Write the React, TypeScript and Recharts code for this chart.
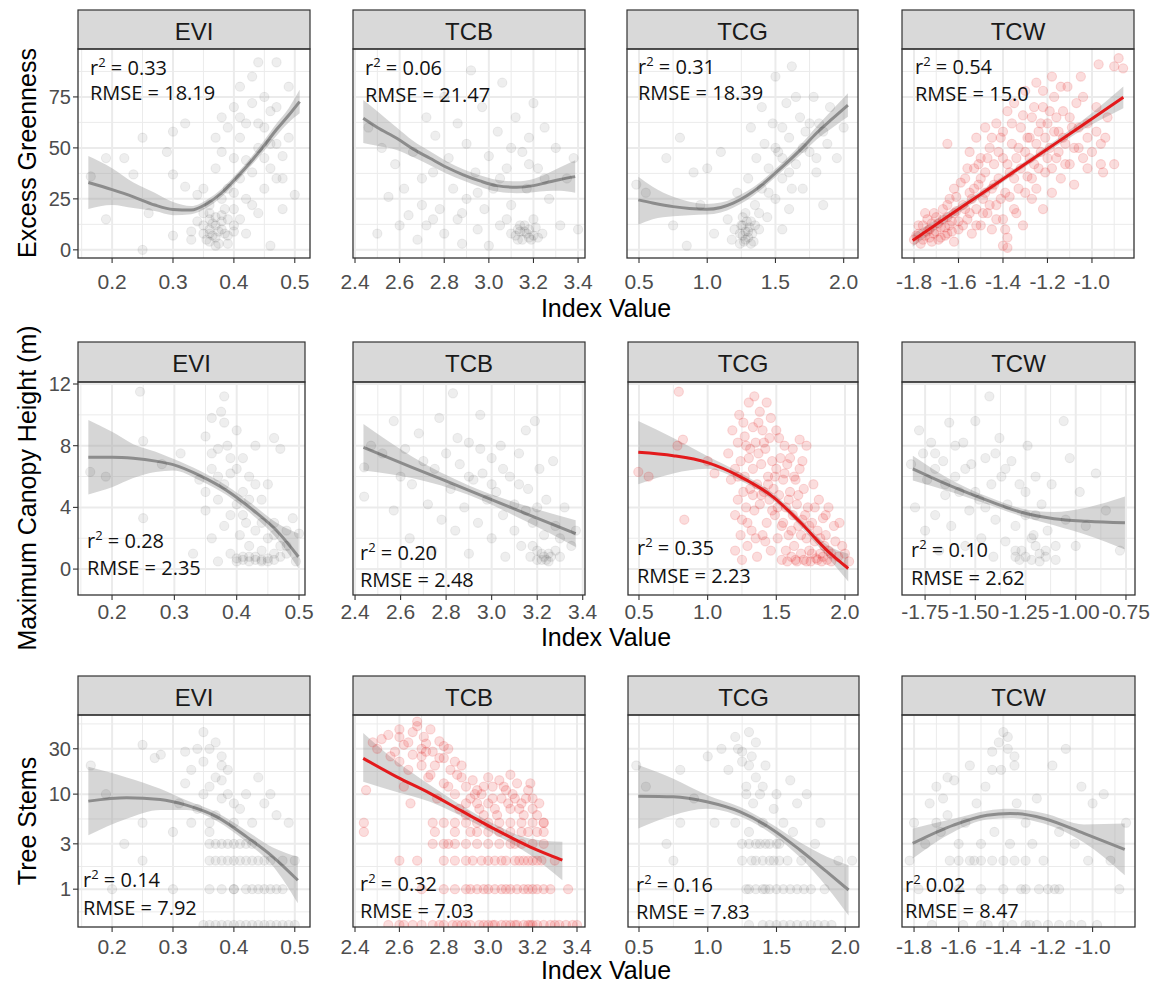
import React from "react";
import { ComposedChart, Scatter, Line, Area, XAxis, YAxis, CartesianGrid } from "recharts";

type Pt = [number, number];
type Fit = [number, number, number, number]; // x, fit, lower, upper

// ---------------- Row 1: Excess Greenness ----------------
const egEvi: Pt[] = [
  [0.165,36],[0.19,45],[0.19,15],[0.22,45],[0.235,37],[0.25,0],[0.25,55],[0.26,18],[0.29,48],[0.30,58],
  [0.30,37],[0.30,7],[0.32,31],[0.32,62],[0.33,5],[0.33,9],[0.34,14],[0.34,27],[0.35,8],[0.35,18],
  [0.35,30],[0.36,4],[0.36,10],[0.36,15],[0.36,22],[0.365,7],[0.37,12],[0.37,2],[0.37,40],[0.37,55],
  [0.375,9],[0.38,17],[0.38,25],[0.38,48],[0.38,65],[0.385,8],[0.39,30],[0.39,60],[0.39,3],[0.4,45],
  [0.4,20],[0.4,70],[0.4,12],[0.41,35],[0.41,55],[0.41,80],[0.42,25],[0.42,62],[0.42,44],[0.43,85],
  [0.43,38],[0.43,72],[0.44,50],[0.44,18],[0.44,92],[0.45,60],[0.45,30],[0.45,45],[0.46,68],[0.46,40],
  [0.46,2],[0.47,52],[0.47,35],[0.47,92],[0.48,46],[0.48,20],[0.49,55],[0.5,27],
  [0.35,12],[0.355,5],[0.36,8],[0.36,18],[0.365,13],[0.37,6],[0.37,16],[0.375,3],[0.38,10],[0.38,14],
  [0.385,20],[0.39,7],[0.39,15],[0.4,9],[0.4,28],[0.41,15],[0.42,8],[0.43,22],[0.44,62],[0.45,75],
  [0.46,52],[0.47,70],[0.48,35],[0.49,80],[0.41,65]
];
const egEviFit: Fit[] = [
  [0.161,33,20,46],[0.2,29.5,22,40],[0.235,26,20.5,33],[0.27,22,19,28],[0.3,19.8,17,23.5],[0.33,19.5,17.5,21.5],
  [0.355,22.5,20.5,24.5],[0.38,28,26,30],[0.4,34,32,36],[0.42,40.5,38.5,42.5],[0.448,50.5,48,53],
  [0.47,59,56,62],[0.49,66,62.5,69.5],[0.508,72.7,67,78.5]
];
const egTcb: Pt[] = [
  [2.46,60],[2.5,8],[2.52,50],[2.55,26],[2.58,42],[2.6,12],[2.62,30],[2.64,17],[2.66,48],[2.68,5],
  [2.7,22],[2.72,65],[2.72,12],[2.75,38],[2.76,56],[2.78,20],[2.8,75],[2.8,8],[2.82,45],[2.84,30],
  [2.86,62],[2.86,15],[2.88,3],[2.9,52],[2.9,25],[2.92,88],[2.94,38],[2.95,10],[2.97,70],[2.98,20],
  [3.0,46],[3.0,2],[3.02,30],[3.04,58],[3.05,12],[3.06,82],[3.08,40],[3.1,22],[3.1,8],[3.12,65],
  [3.13,5],[3.14,12],[3.15,48],[3.16,9],[3.17,30],[3.18,6],[3.18,55],[3.2,15],[3.2,72],[3.22,40],
  [3.24,8],[3.25,60],[3.27,25],[3.3,50],[3.32,12],[3.35,35],[3.38,45],[3.4,10],
  [3.12,7],[3.14,9],[3.15,5],[3.16,12],[3.17,8],[3.18,10],[3.19,5],[3.2,7],[3.21,11],[3.22,6],
  [3.13,10],[3.08,15],[2.88,18],[2.95,28],[3.05,35],[3.1,50],[3.18,42],[3.25,35],[2.7,35],[2.75,15]
];
const egTcbFit: Fit[] = [
  [2.437,64.5,52.4,73.5],[2.5,60,51,68],[2.587,54.7,49,60],[2.66,49.5,45.5,53.5],[2.736,44.9,41.5,48.3],
  [2.81,40.5,37.5,43.5],[2.885,36.8,34,39.5],[2.96,33.8,31,36.6],[3.035,31.5,28.6,34.4],[3.125,30.7,27.8,33.6],
  [3.2,31.5,28.3,34.8],[3.26,33,28.8,37.3],[3.32,34.5,29,40.5],[3.387,35.9,28,44]
];
const egTcg: Pt[] = [
  [0.48,32],[0.55,28],[0.7,45],[0.75,12],[0.8,55],[0.85,2],[0.9,38],[0.95,22],[1.0,40],[1.05,8],
  [1.1,48],[1.15,15],[1.18,5],[1.2,10],[1.22,28],[1.24,3],[1.25,12],[1.26,7],[1.28,18],[1.28,5],
  [1.3,9],[1.3,35],[1.32,14],[1.32,60],[1.34,4],[1.35,22],[1.36,45],[1.38,10],[1.4,30],[1.4,70],
  [1.42,52],[1.44,16],[1.45,40],[1.48,62],[1.5,25],[1.5,85],[1.52,48],[1.55,10],[1.55,35],[1.58,72],
  [1.6,55],[1.6,20],[1.62,90],[1.65,42],[1.68,65],[1.7,30],[1.72,58],[1.75,48],[1.78,75],[1.8,38],
  [1.82,62],[1.85,22],[1.88,52],[1.9,70],[1.95,45],[2.0,60],
  [1.24,8],[1.26,12],[1.27,4],[1.28,9],[1.29,14],[1.3,6],[1.31,11],[1.32,3],[1.33,8],[1.26,16],
  [1.35,12],[1.38,18],[1.45,28],[1.5,50],[1.55,60],[1.6,38],[1.65,75],[1.7,50],[1.75,62],[1.8,45],
  [1.85,58],[1.62,30],[1.55,45]
];
const egTcgFit: Fit[] = [
  [0.495,24.5,12.3,35.9],[0.6,23,15,31],[0.751,21.2,16.5,26],[0.87,20.3,17,23.6],[0.995,19.9,17.3,22.5],
  [1.1,20.8,18.3,23.2],[1.19,22.9,20.6,25.2],[1.29,26.5,24.3,28.7],[1.385,31,29,33],[1.48,36.5,34.5,38.5],
  [1.58,42.5,40.5,44.7],[1.69,49.5,47,52],[1.8,57.2,54,60.4],[1.92,64.5,60,69],[2.031,71,65.3,76.8]
];
const egTcw: Pt[] = [
  [-1.8,5],[-1.78,8],[-1.77,3],[-1.76,12],[-1.75,7],[-1.74,15],[-1.73,10],[-1.72,4],[-1.71,18],[-1.7,9],
  [-1.69,13],[-1.68,6],[-1.67,20],[-1.66,11],[-1.65,8],[-1.65,16],[-1.64,25],[-1.63,14],[-1.62,4],[-1.62,30],
  [-1.61,19],[-1.6,10],[-1.65,52],[-1.58,22],[-1.57,35],[-1.56,15],[-1.55,28],[-1.55,48],[-1.54,8],[-1.53,40],
  [-1.52,20],[-1.52,55],[-1.51,32],[-1.5,12],[-1.5,45],[-1.49,25],[-1.48,60],[-1.48,38],[-1.47,18],[-1.46,50],
  [-1.45,30],[-1.45,10],[-1.44,42],[-1.43,62],[-1.43,22],[-1.42,35],[-1.41,55],[-1.4,15],[-1.4,2],[-1.4,45],
  [-1.39,28],[-1.38,68],[-1.38,6],[-1.37,38],[-1.36,52],[-1.35,20],[-1.35,72],[-1.34,45],[-1.33,30],[-1.32,60],
  [-1.31,12],[-1.3,48],[-1.3,78],[-1.29,36],[-1.28,55],[-1.27,25],[-1.27,65],[-1.26,42],[-1.25,82],[-1.25,30],
  [-1.24,58],[-1.23,48],[-1.22,20],[-1.22,70],[-1.21,38],[-1.2,62],[-1.18,85],[-1.19,50],[-1.18,28],[-1.17,75],
  [-1.16,45],[-1.15,58],[-1.14,35],[-1.13,68],[-1.12,52],[-1.11,80],[-1.1,42],[-1.09,60],[-1.08,32],[-1.07,72],
  [-1.06,50],[-1.05,85],[-1.04,45],[-1.02,62],[-1.02,40],[-0.98,70],[-0.96,52],[-0.95,38],[-0.93,65],[-0.97,91],
  [-0.9,42],[-0.88,94],[-0.9,90],[-0.86,89],[-1.38,1],
  [-1.79,7],[-1.78,12],[-1.76,5],[-1.75,18],[-1.74,9],[-1.73,6],[-1.72,13],[-1.71,8],[-1.7,16],[-1.69,5],
  [-1.68,11],[-1.67,15],[-1.66,7],[-1.65,22],[-1.64,12],[-1.63,9],[-1.62,18],[-1.61,26],[-1.6,14],[-1.59,33],
  [-1.58,12],[-1.57,20],[-1.56,40],[-1.55,18],[-1.54,25],[-1.53,30],[-1.52,12],[-1.51,42],[-1.5,35],[-1.49,18],
  [-1.48,28],[-1.47,45],[-1.46,22],[-1.45,55],[-1.44,32],[-1.43,15],[-1.42,48],[-1.41,25],[-1.4,58],[-1.39,10],
  [-1.38,42],[-1.37,26],[-1.36,62],[-1.35,35],[-1.34,18],[-1.33,50],[-1.32,40],[-1.31,66],[-1.3,28],[-1.29,55],
  [-1.28,45],[-1.27,35],[-1.26,70],[-1.25,52],[-1.24,40],[-1.23,62],[-1.22,78],[-1.21,55],[-1.2,45],[-1.19,68],
  [-1.18,40],[-1.17,58],[-1.16,65],[-1.15,48],[-1.14,80],[-1.13,55],[-1.12,42],[-1.1,65],[-1.08,50],[-1.06,60],
  [-1.04,75],[-1.02,55],[-1.0,48],[-0.98,58],[-0.96,42],[-0.94,55]
];
const egTcwFit: Fit[] = [
  [-1.806,4.6,1.5,7.7],[-1.65,16.2,14,18.4],[-1.5,27.3,25.7,28.9],[-1.33,39.9,38.5,41.3],
  [-1.15,53.2,51.6,54.8],[-1.0,64.3,61.5,67.1],[-0.859,74.8,69.5,80.1]
];

// ---------------- Row 2: Maximum Canopy Height ----------------
const chEvi: Pt[] = [
  [0.165,6.3],[0.19,6.0],[0.245,11.5],[0.25,3.3],[0.25,8.3],[0.28,6.8],[0.31,7.5],[0.33,1.0],[0.34,5.8],[0.35,8.6],
  [0.35,3.8],[0.36,6.5],[0.36,9.8],[0.36,2.0],[0.37,7.8],[0.37,4.5],[0.37,0.5],[0.375,10.2],[0.38,11.2],[0.38,5.5],
  [0.38,2.8],[0.385,8.0],[0.39,6.2],[0.39,3.5],[0.39,1.0],[0.4,9.0],[0.4,4.2],[0.4,0.7],[0.405,2.2],[0.41,7.2],
  [0.41,5.0],[0.41,0.6],[0.415,3.0],[0.42,1.5],[0.42,6.0],[0.42,0.8],[0.43,8.0],[0.43,2.5],[0.43,0.6],[0.44,4.5],
  [0.44,1.2],[0.44,0.5],[0.45,5.5],[0.45,2.0],[0.45,0.7],[0.46,8.5],[0.46,3.0],[0.46,1.0],[0.47,7.8],[0.47,1.5],
  [0.48,2.5],[0.48,1.0],[0.49,3.3],[0.495,0.5],[0.5,2.3],
  [0.4,0.5],[0.41,0.8],[0.42,0.5],[0.43,0.8],[0.44,0.6],[0.45,0.5],[0.46,0.6],[0.47,0.8],[0.38,9.5],[0.36,7.5],
  [0.39,7.2],[0.41,3.5],[0.42,4.5],[0.43,5.5],[0.44,3.0],[0.4,6.5],[0.37,6.0],[0.35,5.0],[0.48,1.5],[0.46,2.2]
];
const chEviFit: Fit[] = [
  [0.162,7.25,4.84,9.66],[0.2,7.25,5.3,8.9],[0.234,7.18,5.9,8.1],[0.27,7.0,6.3,7.6],[0.298,6.77,6.4,7.15],
  [0.341,6.06,5.75,6.37],[0.384,5.1,4.8,5.4],[0.427,3.8,3.45,4.15],[0.464,2.5,2.0,3.0],[0.499,0.8,0.06,2.3]
];
const chTcb: Pt[] = [
  [2.44,6.6],[2.44,4.7],[2.47,8.0],[2.52,7.5],[2.57,9.6],[2.57,3.8],[2.6,6.0],[2.62,7.8],[2.64,2.0],[2.65,5.5],
  [2.68,8.8],[2.7,7.0],[2.72,4.2],[2.74,1.2],[2.75,6.5],[2.77,9.8],[2.78,3.2],[2.8,7.5],[2.82,5.2],[2.83,11.4],
  [2.84,2.5],[2.86,6.8],[2.88,4.0],[2.9,8.2],[2.9,1.0],[2.92,5.8],[2.94,3.0],[2.95,10.0],[2.96,6.2],[2.98,4.5],
  [3.0,7.2],[3.0,2.0],[3.02,5.0],[3.04,8.0],[3.05,3.5],[3.06,0.8],[3.08,6.0],[3.1,4.2],[3.12,7.5],[3.13,1.5],
  [3.15,9.0],[3.16,5.2],[3.17,0.8],[3.18,3.0],[3.19,9.6],[3.2,1.2],[3.21,6.5],[3.22,0.6],[3.23,2.2],[3.24,4.5],
  [3.25,1.0],[3.27,7.0],[3.28,2.8],[3.3,0.8],[3.32,4.0],[3.35,1.5],[3.37,2.5],
  [3.2,0.6],[3.22,1.0],[3.24,0.6],[3.26,0.8],[3.28,1.2],[3.25,0.5],[3.23,0.8],[3.18,1.5],[3.1,2.5],[3.12,5.5],
  [3.05,6.5],[2.95,7.8],[2.85,8.5],[2.9,6.0],[3.0,5.5],[3.15,3.8],[3.2,4.0],[3.3,2.0]
];
const chTcbFit: Fit[] = [
  [2.437,7.89,6.4,9.4],[2.65,6.6,5.9,7.3],[2.9,5.11,4.8,5.42],[3.15,3.6,3.1,4.1],[3.369,2.3,1.44,3.16]
];
const chTcg: Pt[] = [
  [0.495,6.3],[0.57,6.0],[0.78,8.0],[0.79,11.5],[0.82,8.4],[0.83,3.2],[1.0,7.0],[1.05,6.2],
  [1.15,7.5],[1.17,5.8],[1.18,9.0],[1.2,6.5],[1.2,1.2],[1.22,8.2],[1.22,4.5],[1.23,10.0],[1.24,7.0],[1.25,3.2],
  [1.25,0.6],[1.26,9.5],[1.27,6.0],[1.28,8.0],[1.28,4.0],[1.29,1.5],[1.3,10.8],[1.3,7.2],[1.31,5.2],[1.32,2.5],
  [1.33,9.2],[1.33,6.5],[1.34,11.2],[1.34,3.8],[1.35,8.2],[1.36,5.5],[1.36,0.8],[1.37,7.5],[1.38,10.2],[1.38,4.2],
  [1.39,6.8],[1.4,2.2],[1.4,9.0],[1.41,5.0],[1.42,7.8],[1.43,3.0],[1.43,10.8],[1.44,6.0],[1.45,4.5],[1.45,8.5],
  [1.46,1.2],[1.47,7.0],[1.48,5.2],[1.49,3.5],[1.5,6.5],[1.5,9.0],[1.51,2.0],[1.52,4.8],[1.53,7.2],[1.54,0.6],
  [1.55,5.8],[1.55,3.0],[1.56,8.0],[1.57,4.0],[1.58,0.5],[1.58,6.8],[1.59,2.2],[1.6,5.0],[1.61,0.8],[1.62,3.5],
  [1.62,7.8],[1.63,1.5],[1.64,5.8],[1.65,0.5],[1.65,4.2],[1.66,2.8],[1.67,6.5],[1.67,8.4],[1.68,1.0],[1.69,3.2],
  [1.7,0.6],[1.7,5.2],[1.72,8.0],[1.72,2.0],[1.73,4.0],[1.74,1.2],[1.75,0.5],[1.76,3.0],[1.77,5.5],[1.78,1.8],
  [1.79,0.7],[1.8,2.5],[1.81,4.5],[1.82,1.0],[1.83,0.5],[1.84,3.3],[1.85,1.5],[1.86,2.2],[1.87,0.6],[1.88,4.0],
  [1.9,1.0],[1.92,2.8],[1.95,0.8],[1.98,1.5],[2.03,0.5],
  [1.2,3.5],[1.22,6.0],[1.24,2.2],[1.26,5.0],[1.27,8.6],[1.29,3.0],[1.31,7.8],[1.33,4.8],[1.35,2.0],[1.37,9.5],
  [1.39,4.8],[1.41,8.2],[1.42,1.8],[1.44,5.5],[1.46,9.8],[1.47,3.8],[1.49,6.0],[1.51,4.0],[1.52,8.5],[1.54,2.8],
  [1.56,6.2],[1.57,1.2],[1.59,4.5],[1.6,7.2],[1.61,2.5],[1.63,6.0],[1.64,0.6],[1.66,4.8],[1.68,2.2],[1.69,7.0],
  [1.71,3.5],[1.72,0.5],[1.74,2.8],[1.76,1.0],[1.78,4.0],[1.8,0.6],[1.82,2.0],[1.84,0.8],[1.86,3.5],[1.88,1.2],
  [1.9,0.5],[1.93,1.8],[1.96,3.0],[2.0,1.0]
];
const chTcgFit: Fit[] = [
  [0.495,7.57,5.5,9.6],[0.75,7.35,6.2,8.5],[0.993,6.92,6.5,7.35],[1.236,6.0,5.75,6.25],[1.478,4.67,4.45,4.9],
  [1.673,3.05,2.8,3.3],[1.867,1.23,0.85,1.6],[2.024,0.04,-0.8,1.0]
];
const chTcw: Pt[] = [
  [-1.82,6.8],[-1.8,4.0],[-1.78,9.0],[-1.76,7.5],[-1.75,2.5],[-1.74,5.8],[-1.72,8.2],[-1.7,3.5],[-1.7,6.5],[-1.68,1.2],
  [-1.66,7.0],[-1.65,4.8],[-1.63,9.5],[-1.62,2.8],[-1.6,6.0],[-1.58,5.0],[-1.56,8.2],[-1.55,1.5],[-1.53,3.8],[-1.52,6.8],
  [-1.5,9.6],[-1.48,4.5],[-1.47,2.0],[-1.45,7.2],[-1.43,11.2],[-1.42,5.5],[-1.41,0.8],[-1.4,3.2],[-1.38,8.5],[-1.37,6.0],
  [-1.35,1.8],[-1.34,4.2],[-1.32,7.0],[-1.3,0.8],[-1.3,2.8],[-1.28,5.5],[-1.27,1.2],[-1.25,3.5],[-1.24,8.0],[-1.22,0.6],
  [-1.21,2.2],[-1.2,6.0],[-1.18,1.0],[-1.17,4.2],[-1.15,0.8],[-1.14,2.5],[-1.12,5.5],[-1.1,1.5],[-1.06,9.6],[-1.05,3.2],
  [-1.03,7.2],[-1.0,1.5],[-0.98,5.0],[-0.95,2.8],[-0.9,6.2],[-0.85,3.8],[-0.78,1.2],
  [-1.3,1.2],[-1.25,0.8],[-1.2,1.5],[-1.15,1.2],[-1.1,0.6],[-1.28,0.6],[-1.22,2.0],[-1.18,0.5],[-1.55,6.5],[-1.6,8.0],
  [-1.7,7.5],[-1.65,5.5],[-1.5,5.0],[-1.45,4.0],[-1.35,6.5],[-1.4,7.5],[-1.25,5.0],[-1.2,3.5]
];
const chTcwFit: Fit[] = [
  [-1.811,6.5,5.74,7.35],[-1.608,5.31,4.95,5.7],[-1.44,4.45,4.2,4.7],[-1.275,3.7,3.45,3.95],
  [-1.108,3.27,2.85,3.7],[-0.942,3.1,2.2,4.0],[-0.755,3.0,1.27,4.7]
];

// ---------------- Row 3: Tree Stems (log axis; zero counts sit at the floor value 0.42) ----------------
const stEvi: Pt[] = [
  [0.165,20],[0.19,10],[0.2,1],[0.22,3],[0.25,2],[0.25,5],[0.25,33],[0.27,24],[0.28,26],[0.3,1],
  [0.3,4],[0.31,8],[0.32,13],[0.32,28],[0.33,18],[0.33,5],[0.34,30],[0.34,7],[0.35,45],[0.35,22],
  [0.35,0.42],[0.36,2],[0.36,3],[0.36,4],[0.36,1],[0.36,12],[0.37,35],[0.37,15],[0.37,6],[0.37,0.42],
  [0.38,3],[0.38,9],[0.38,2],[0.38,1],[0.38,25],[0.39,18],[0.39,10],[0.39,0.42],[0.4,5],[0.4,1],
  [0.4,2],[0.4,3],[0.41,7],[0.41,0.42],[0.42,1],[0.42,2],[0.42,10],[0.43,0.42],[0.43,3],[0.43,5],
  [0.44,2],[0.44,1],[0.44,15],[0.45,0.42],[0.45,1],[0.45,8],[0.46,2],[0.46,10],[0.46,0.42],[0.47,1],
  [0.47,6],[0.48,0.42],[0.48,2],[0.49,5],[0.5,0.42],[0.5,2],
  [0.36,0.42],[0.38,0.42],[0.4,0.42],[0.42,0.42],[0.44,0.42],[0.47,0.42],[0.49,0.42],[0.36,5],[0.37,3],[0.37,2],
  [0.39,2],[0.39,3],[0.41,3],[0.41,2],[0.43,2],[0.42,3],[0.45,2],[0.4,1],[0.43,1],[0.46,1],
  [0.48,1],[0.38,14],[0.36,30],[0.35,10],[0.4,8],[0.38,20]
];
const stEviFit: Fit[] = [
  [0.161,8.44,3.7,19.4],[0.224,9.15,5.5,15],[0.279,8.8,6.8,11.4],[0.322,7.66,6.8,8.6],[0.372,5.77,5.2,6.4],
  [0.421,3.55,3.1,4.1],[0.464,2.19,1.75,2.75],[0.505,1.24,0.71,2.19]
];
const stTcb: Pt[] = [
  [2.45,11],[2.44,5],[2.44,4],[2.48,35],[2.52,38],[2.55,42],[2.58,28],[2.6,40],[2.6,22],[2.62,33],
  [2.62,12],[2.64,18],[2.65,8],[2.66,45],[2.68,58],[2.68,52],[2.7,30],[2.7,25],[2.71,40],[2.72,34],
  [2.73,15],[2.74,48],[2.75,28],[2.76,20],[2.77,9],[2.78,36],[2.8,24],[2.8,13],[2.82,30],[2.83,18],
  [2.85,22],[2.85,10],[2.87,7],[2.88,15],[2.9,12],[2.9,6],[2.92,9],[2.93,14],[2.95,8],[2.95,11],
  [2.97,10],[2.98,6],[3.0,15],[3.0,8],[3.02,12],[3.03,7],[3.05,14],[3.06,9],[3.08,11],[3.1,16],
  [3.1,7],[3.12,9],[3.13,13],[3.15,8],[3.16,6],[3.18,11],[3.2,7],[3.2,9],[3.22,6],[3.25,5],
  [2.5,30],[2.56,25],[2.6,48],[2.64,35],[2.66,26],[2.7,20],[2.72,28],[2.74,16],[2.78,24],[2.8,32],
  [2.82,12],[2.86,16],[2.88,20],[2.9,8],[2.94,10],[2.96,7],[2.98,12],[3.02,9],[3.04,6],[3.07,12],
  [3.09,8],[3.11,10],[3.14,7],[3.17,9],[3.19,13],[3.23,8],
  [2.75,5],[2.8,5],[2.85,5],[2.9,5],[2.95,5],[3.0,5],[3.05,5],[3.1,5],[3.15,5],[3.2,5],[3.25,5],
  [2.76,4],[2.85,4],[2.92,4],[2.95,4],[3.0,4],[3.05,4],[3.1,4],[3.15,4],[3.18,4],[3.22,4],[3.25,4],
  [2.75,3],[2.8,3],[2.82,3],[2.85,3],[2.9,3],[2.95,3],[3.0,3],[3.05,3],[3.1,3],[3.12,3],[3.15,3],[3.2,3],[3.25,3],
  [2.6,2],[2.68,2],[2.8,2],[2.85,2],[2.9,2],[2.93,2],[2.97,2],[3.0,2],[3.03,2],[3.06,2],[3.08,2],[3.12,2],[3.14,2],
  [3.16,2],[3.18,2],[3.2,2],[3.22,2],[3.24,2],[3.3,2],
  [2.7,1],[2.8,1],[2.85,1],[2.9,1],[2.92,1],[2.95,1],[2.98,1],[3.0,1],[3.03,1],[3.06,1],[3.08,1],[3.1,1],[3.13,1],
  [3.16,1],[3.18,1],[3.2,1],[3.22,1],[3.25,1],[3.28,1],[3.36,1],
  [2.55,0.42],[2.6,0.42],[2.62,0.42],[2.66,0.42],[2.7,0.42],[2.75,0.42],[2.78,0.42],[2.8,0.42],[2.84,0.42],[2.86,0.42],
  [2.88,0.42],[2.9,0.42],[2.92,0.42],[2.96,0.42],[2.98,0.42],[3.0,0.42],[3.02,0.42],[3.03,0.42],[3.06,0.42],[3.08,0.42],
  [3.1,0.42],[3.12,0.42],[3.13,0.42],[3.16,0.42],[3.18,0.42],[3.19,0.42],[3.2,0.42],[3.22,0.42],[3.25,0.42],[3.28,0.42],
  [3.3,0.42],[3.32,0.42],[3.35,0.42],[3.38,0.42],[3.4,0.42]
];
const stTcbFit: Fit[] = [
  [2.437,23.8,13.5,44],[2.588,15.2,10.5,22],[2.738,10.2,8.3,12.5],[2.888,6.5,5.7,7.4],[3.038,4.18,3.7,4.7],
  [3.188,2.79,2.3,3.4],[3.334,2.02,1.24,3.15]
];
const stTcg: Pt[] = [
  [0.48,20],[0.55,12],[0.7,3],[0.75,2],[0.8,18],[0.8,5],[0.9,9],[1.0,25],[1.05,5],[1.1,30],
  [1.15,18],[1.2,40],[1.2,5],[1.22,30],[1.25,22],[1.25,3],[1.25,2],[1.28,12],[1.28,1],[1.3,45],
  [1.3,4],[1.3,0.42],[1.32,25],[1.33,8],[1.35,3],[1.35,2],[1.35,15],[1.38,10],[1.4,1],[1.4,5],
  [1.4,0.42],[1.42,20],[1.45,3],[1.45,2],[1.45,1],[1.48,7],[1.5,0.42],[1.5,10],[1.52,3],[1.55,1],
  [1.55,5],[1.58,2],[1.6,0.42],[1.6,14],[1.62,4],[1.65,1],[1.65,8],[1.68,2],[1.7,0.42],[1.72,10],
  [1.75,1],[1.78,3],[1.8,0.42],[1.82,5],[1.85,1],[1.9,0.42],[1.95,2],[2.05,2],
  [1.3,3],[1.32,2],[1.38,3],[1.4,2],[1.42,3],[1.48,2],[1.5,3],[1.52,2],[1.3,1],[1.35,1],
  [1.42,1],[1.5,1],[1.6,1],[1.7,1],[1.45,0.42],[1.55,0.42],[1.65,0.42],[1.75,0.42],[1.85,0.42],[1.28,10],
  [1.3,20],[1.35,35],[1.25,28],[1.4,12]
];
const stTcgFit: Fit[] = [
  [0.495,9.5,4.35,20.2],[0.75,9.37,6,14.5],[0.993,8.3,7,9.8],[1.236,6.5,5.8,7.3],[1.478,4.18,3.7,4.7],
  [1.673,2.57,2.15,3.1],[1.867,1.52,1.05,2.2],[2.024,0.98,0.53,1.79]
];
const stTcw: Pt[] = [
  [-1.82,2],[-1.8,5],[-1.78,1],[-1.75,3],[-1.73,8],[-1.72,0.42],[-1.7,12],[-1.68,4],[-1.67,9],[-1.65,6],
  [-1.64,2],[-1.62,14],[-1.6,3],[-1.58,0.42],[-1.57,5],[-1.55,20],[-1.53,2],[-1.52,8],[-1.5,3],[-1.48,12],
  [-1.47,0.42],[-1.45,28],[-1.44,4],[-1.42,35],[-1.41,18],[-1.4,2],[-1.4,45],[-1.38,30],[-1.37,3],[-1.36,0.42],
  [-1.35,25],[-1.34,8],[-1.32,1],[-1.3,5],[-1.28,0.42],[-1.27,3],[-1.25,9],[-1.24,1],[-1.22,2],[-1.2,0.42],
  [-1.18,20],[-1.17,1],[-1.15,4],[-1.12,30],[-1.1,0.42],[-1.08,3],[-1.05,12],[-1.02,2],[-1.0,8],[-0.98,0.42],
  [-0.95,10],[-0.92,2],[-0.88,1],[-0.85,5],
  [-1.6,2],[-1.55,2],[-1.5,2],[-1.45,2],[-1.35,2],[-1.3,2],[-1.6,1],[-1.5,1],[-1.4,1],[-1.3,1],
  [-1.2,1],[-1.15,1],[-1.5,0.42],[-1.4,0.42],[-1.3,0.42],[-1.25,0.42],[-1.15,0.42],[-1.05,0.42],[-1.45,18],[-1.38,40],
  [-1.35,20],[-1.65,15],[-1.7,5]
];
const stTcwFit: Fit[] = [
  [-1.806,3.03,2.1,4.35],[-1.623,4.72,4.0,5.5],[-1.473,6.0,5.4,6.7],[-1.369,6.27,5.6,7.0],
  [-1.219,5.55,4.9,6.3],[-1.039,3.86,3.1,4.8],[-0.856,2.62,1.4,4.9]
];

// ---------------- labels & statistics ----------------
const facetLabels = ["EVI", "TCB", "TCG", "TCW"];
const rowTitles = ["Excess Greenness", "Maximum Canopy Height (m)", "Tree Stems"];
const xTitle = "Index Value";
const r2Values = [["0.33", "0.06", "0.31", "0.54"], ["0.28", "0.20", "0.35", "0.10"], ["0.14", "0.32", "0.16", "0.02"]];
const rmseValues = [["18.19", "21.47", "18.39", "15.0"], ["2.35", "2.48", "2.23", "2.62"], ["7.92", "7.03", "7.83", "8.47"]];
const r2HasEquals = [[true, true, true, true], [true, true, true, true], [true, true, true, false]];

// tick values
const eviTicks = [0.2, 0.3, 0.4, 0.5];
const eviMinor = [0.15, 0.25, 0.35, 0.45];
const tcbTicks = [2.4, 2.6, 2.8, 3.0, 3.2, 3.4];
const tcbMinor = [2.5, 2.7, 2.9, 3.1, 3.3];
const tcgTicks = [0.5, 1.0, 1.5, 2.0];
const tcgMinor = [0.75, 1.25, 1.75];
const tcwTicks = [-1.8, -1.6, -1.4, -1.2, -1.0];
const tcwMinor = [-1.7, -1.5, -1.3, -1.1, -0.9];
const tcwTicksB = [-1.75, -1.5, -1.25, -1.0, -0.75];
const tcwMinorB = [-1.625, -1.375, -1.125, -0.875];
const egTicks = [0, 25, 50, 75];
const egMinor = [12.5, 37.5, 62.5, 87.5];
const chTicks = [0, 4, 8, 12];
const chMinor = [2, 6, 10];
const stTicks = [1, 3, 10, 30];
const stMinor = [0.577, 1.732, 5.477, 17.32, 54.77];

interface AxisCfg { domain: [number, number]; ticks: number[]; minor: number[]; dec: number; log?: boolean }

const xAxes: AxisCfg[][] = [
  [
    { domain: [0.144, 0.525], ticks: eviTicks, minor: eviMinor, dec: 1 },
    { domain: [2.391, 3.431], ticks: tcbTicks, minor: tcbMinor, dec: 1 },
    { domain: [0.412, 2.105], ticks: tcgTicks, minor: tcgMinor, dec: 1 },
    { domain: [-1.854, -0.811], ticks: tcwTicks, minor: tcwMinor, dec: 1 },
  ],
  [
    { domain: [0.1454, 0.5096], ticks: eviTicks, minor: eviMinor, dec: 1 },
    { domain: [2.391, 3.41], ticks: tcbTicks, minor: tcbMinor, dec: 1 },
    { domain: [0.42, 2.095], ticks: tcgTicks, minor: tcgMinor, dec: 1 },
    { domain: [-1.865, -0.705], ticks: tcwTicksB, minor: tcwMinorB, dec: 2 },
  ],
  [
    { domain: [0.144, 0.525], ticks: eviTicks, minor: eviMinor, dec: 1 },
    { domain: [2.391, 3.436], ticks: tcbTicks, minor: tcbMinor, dec: 1 },
    { domain: [0.42, 2.1], ticks: tcgTicks, minor: tcgMinor, dec: 1 },
    { domain: [-1.854, -0.81], ticks: tcwTicks, minor: tcwMinor, dec: 1 },
  ],
];
const yAxes: AxisCfg[] = [
  { domain: [-4, 98.5], ticks: egTicks, minor: egMinor, dec: 0 },
  { domain: [-1.68, 12.13], ticks: chTicks, minor: chMinor, dec: 0 },
  { domain: [0.4, 68], ticks: stTicks, minor: stMinor, dec: 0, log: true },
];

const points: Pt[][][] = [
  [egEvi, egTcb, egTcg, egTcw],
  [chEvi, chTcb, chTcg, chTcw],
  [stEvi, stTcb, stTcg, stTcw],
];
const fits: Fit[][][] = [
  [egEviFit, egTcbFit, egTcgFit, egTcwFit],
  [chEviFit, chTcbFit, chTcgFit, chTcwFit],
  [stEviFit, stTcbFit, stTcgFit, stTcwFit],
];
const highlighted = [[false, false, false, true], [false, false, true, false], [false, true, false, false]];

// ---------------- layout (pixels) ----------------
const rowGeom = [
  { stripTop: 10, top: 49, h: 209, titleY: 317, yTitleC: 153, tickGap: 11 },
  { stripTop: 342, top: 382, h: 213, titleY: 646, yTitleC: 488, tickGap: 4 },
  { stripTop: 676, top: 715, h: 212, titleY: 979, yTitleC: 821, tickGap: 7 },
];
const colGeom = [
  [[78, 232], [353, 232], [627, 231], [902, 232]],
  [[78, 227], [353, 232], [628, 230], [902, 233]],
  [[78, 232], [353, 232], [628, 231], [902, 233]],
];
const annPos = [
  [[90, 75, 100], [365, 75, 102], [638, 74, 100], [915, 74, 101]],
  [[87, 548, 575], [360, 560, 587], [637, 555, 583], [911, 557, 585]],
  [[83, 887, 915], [360, 891, 918], [636, 892, 919], [905, 892, 918]],
];

const RED = "#E31A1C";
const TICK_FONT = "'Liberation Sans', Arial, sans-serif";
const ANN_FONT = "'Open Sans', 'Noto Sans', sans-serif";

interface PanelCfg {
  left: number; top: number; w: number; h: number; stripTop: number; tickGap: number;
  x: AxisCfg; y: AxisCfg; showY: boolean; pts: Pt[]; fit: Fit[]; red: boolean; padR: number;
}

function Panel({ c }: { c: PanelCfg }) {
  const yW = c.showY ? 52 : 0;
  const padL = 26;
  const padT = 14;
  const axisH = 50;
  const pts = c.pts.map(([x, y]) => ({ x, y }));
  const fit = c.fit.map(([x, y, lo, hi]) => ({ x, y, band: [lo, hi] }));
  const ptFill = c.red ? RED : "#000000";
  const ptOpacity = c.red ? 0.15 : 0.065;
  const xTickStyle = { fill: "#4D4D4D", fontSize: 21, fontFamily: TICK_FONT };
  const yTickStyle = { fill: "#4D4D4D", fontSize: 20, fontFamily: TICK_FONT };
  const dot = (p: any) => (
    <circle cx={p.cx} cy={p.cy} r={4.6} fill={ptFill} fillOpacity={ptOpacity} stroke={ptFill} strokeOpacity={ptOpacity} strokeWidth={1.1} />
  );
  return (
    <div style={{ position: "absolute", left: c.left - yW - padL, top: c.top - padT }}>
      <ComposedChart
        width={padL + yW + c.w + c.padR}
        height={padT + c.h + axisH}
        margin={{ top: padT, right: c.padR, bottom: 0, left: padL }}
      >
        <CartesianGrid verticalValues={c.x.minor} horizontalValues={c.y.minor} stroke="#EBEBEB" strokeWidth={1} />
        <CartesianGrid verticalValues={c.x.ticks} horizontalValues={c.y.ticks} stroke="#EBEBEB" strokeWidth={2} />
        <XAxis
          type="number"
          dataKey="x"
          domain={c.x.domain}
          ticks={c.x.ticks}
          interval={0}
          allowDataOverflow
          height={axisH}
          axisLine={false}
          tickLine={{ stroke: "#333333", strokeWidth: 1.1 }}
          tickSize={5}
          tickMargin={c.tickGap}
          tick={xTickStyle}
          tickFormatter={(v: number) => Number(v).toFixed(c.x.dec)}
        />
        <YAxis
          type="number"
          dataKey="y"
          domain={c.y.domain}
          scale={c.y.log ? "log" : "linear"}
          ticks={c.y.ticks}
          interval={0}
          allowDataOverflow
          width={yW}
          hide={!c.showY}
          axisLine={false}
          tickLine={{ stroke: "#333333", strokeWidth: 1.1 }}
          tickSize={5}
          tickMargin={2}
          tick={yTickStyle}
          tickFormatter={(v: number) => String(v)}
        />
        <Scatter data={pts} isAnimationActive={false} shape={dot} />
        <Area
          data={fit}
          dataKey="band"
          type="monotone"
          stroke="none"
          fill="#999999"
          fillOpacity={0.4}
          dot={false}
          activeDot={false}
          isAnimationActive={false}
        />
        <Line
          data={fit}
          dataKey="y"
          type="monotone"
          stroke={c.red ? RED : "#8C8C8C"}
          strokeWidth={3}
          dot={false}
          activeDot={false}
          isAnimationActive={false}
        />
      </ComposedChart>
    </div>
  );
}

export default function App() {
  const panels: (PanelCfg & { r: number; k: number })[] = [];
  rowGeom.forEach((rg, r) => {
    colGeom[r].forEach(([left, w], k) => {
      panels.push({
        r, k, left, w, top: rg.top, h: rg.h, stripTop: rg.stripTop, tickGap: rg.tickGap,
        x: xAxes[r][k], y: yAxes[r], showY: k === 0,
        pts: points[r][k], fit: fits[r][k], red: highlighted[r][k],
        padR: k === 3 ? 1150 - (left + w) : 24,
      });
    });
  });

  return (
    <div style={{ position: "absolute", left: 0, top: 0, width: 1150, height: 984, overflow: "hidden", background: "#FFFFFF" }}>
      {panels.map((p) => (
        <Panel key={`${p.r}-${p.k}`} c={p} />
      ))}
      <svg width={1150} height={984} style={{ position: "absolute", left: 0, top: 0, pointerEvents: "none" }}>
        {panels.map((p) => {
          const [ax, b1, b2] = annPos[p.r][p.k];
          return (
            <g key={`o-${p.r}-${p.k}`}>
              <rect x={p.left} y={p.stripTop} width={p.w} height={p.top - p.stripTop} fill="#D9D9D9" stroke="#333333" strokeWidth={1.2} />
              <text x={p.left + p.w / 2} y={(p.stripTop + p.top) / 2 + 10} textAnchor="middle" fontSize={24} fill="#1A1A1A" fontFamily={TICK_FONT}>
                {facetLabels[p.k]}
              </text>
              <rect x={p.left} y={p.top} width={p.w} height={p.h} fill="none" stroke="#333333" strokeWidth={1.3} />
              <text x={ax} y={b1} fontSize={20} fill="#111111" fontFamily={ANN_FONT}>
                r<tspan dy={-8} fontSize={13}>2</tspan>
                <tspan dy={8}>{(r2HasEquals[p.r][p.k] ? " = " : " ") + r2Values[p.r][p.k]}</tspan>
              </text>
              <text x={ax} y={b2} fontSize={20} fill="#111111" fontFamily={ANN_FONT}>
                {"RMSE = " + rmseValues[p.r][p.k]}
              </text>
            </g>
          );
        })}
        {rowGeom.map((rg, r) => (
          <g key={`t-${r}`}>
            <text x={606} y={rg.titleY} textAnchor="middle" fontSize={25} fill="#000000" fontFamily={TICK_FONT}>
              {xTitle}
            </text>
            <text
              x={0}
              y={0}
              transform={`translate(36, ${rg.yTitleC}) rotate(-90)`}
              textAnchor="middle"
              fontSize={25}
              fill="#000000"
              fontFamily={TICK_FONT}
            >
              {rowTitles[r]}
            </text>
          </g>
        ))}
      </svg>
    </div>
  );
}
